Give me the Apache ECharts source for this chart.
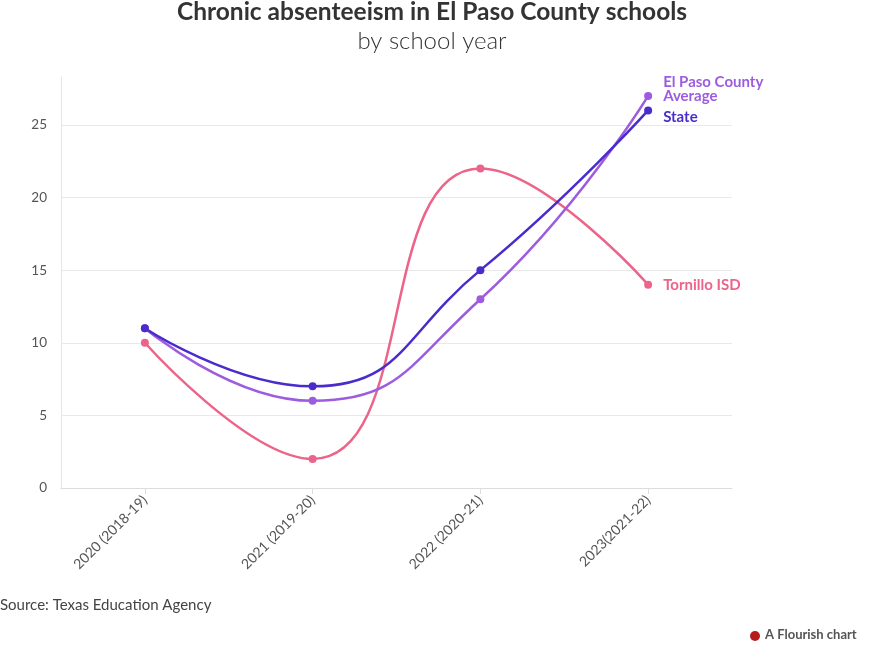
<!DOCTYPE html>
<html><head><meta charset="utf-8">
<script src="https://cdn.jsdelivr.net/npm/echarts@6/dist/echarts.min.js"></script>
<style>html,body{margin:0;padding:0;background:#fff}#c{width:881px;height:671px}</style>
</head><body><div id="c"></div>
<script>
const categories = ['2020 (2018-19)', '2021 (2019-20)', '2022 (2020-21)', '2023(2021-22)'];
const stateValues = [11, 7, 15, 26];
const elPasoValues = [11, 6, 13, 27];
const tornilloValues = [10, 2, 22, 14];
const seriesNames = ['State', 'El Paso County\nAverage', 'Tornillo ISD'];
const yTicks = [0, 5, 10, 15, 20, 25];

const font = 'Lato, "Source Sans Pro", "Noto Sans", sans-serif';
const chart = echarts.init(document.getElementById('c'));
function mk(name, data, color, offsetY) {
  return {
    name, type: 'line', data, smooth: 0.5,
    symbol: 'circle', symbolSize: 8,
    lineStyle: { width: 2.5, color }, itemStyle: { color },
    emphasis: { disabled: true },
    endLabel: { show: true, formatter: name, color, fontFamily: font, fontWeight: 'bold', fontSize: 15, lineHeight: 14, distance: 15, offset: [0, offsetY], align: 'left' }
  };
}
chart.setOption({
  animation: false,
  title: [
    { text: 'Chronic absenteeism in El Paso County schools', left: 427, top: -5, textAlign: 'center',
      textStyle: { fontFamily: font, fontWeight: 'bold', fontSize: 24.5, color: '#333' } },
    { text: 'by school year', left: 427, top: 24, textAlign: 'center',
      textStyle: { fontFamily: font, fontWeight: 300, fontSize: 24, color: '#333' } }
  ],
  grid: { left: 61, right: 149, top: 77, bottom: 183 },
  xAxis: {
    type: 'category', data: categories, boundaryGap: true,
    axisLine: { show: true, lineStyle: { color: '#ddd' } },
    axisTick: { show: true, alignWithLabel: true, length: 6, lineStyle: { color: '#ddd' } },
    axisLabel: { rotate: 45, color: '#555', fontFamily: font, fontSize: 14, margin: 10 },
    splitLine: { show: false }
  },
  yAxis: {
    type: 'value', min: 0, max: 28.3, interval: 5,
    axisLine: { show: true, lineStyle: { color: '#e6e6e6' } },
    axisTick: { show: false },
    axisLabel: { color: '#555', fontFamily: font, fontSize: 13.5, margin: 14,
      formatter: v => yTicks.includes(v) ? String(v) : '' },
    splitLine: { show: true, lineStyle: { color: ['#e9e9e9','#e9e9e9','#e9e9e9','#e9e9e9','#e9e9e9','#e9e9e9','rgba(0,0,0,0)'] } }
  },
  series: [
    mk(seriesNames[2], tornilloValues, '#ec6489', 0),
    mk(seriesNames[1], elPasoValues, '#9d5ce0', -7),
    mk(seriesNames[0], stateValues, '#4a2ccc', 7)
  ],
  graphic: [
    { type: 'text', left: 0, top: 598, style: { text: 'Source: Texas Education Agency', font: '15px ' + font, fill: '#444' } },
    { type: 'text', left: 765, top: 628, style: { text: 'A Flourish chart', font: 'bold 13px ' + font, fill: '#555' } },
    { type: 'circle', shape: { cx: 755, cy: 636, r: 5 }, style: { fill: '#b51d1d' } }
  ]
});
</script></body></html>
